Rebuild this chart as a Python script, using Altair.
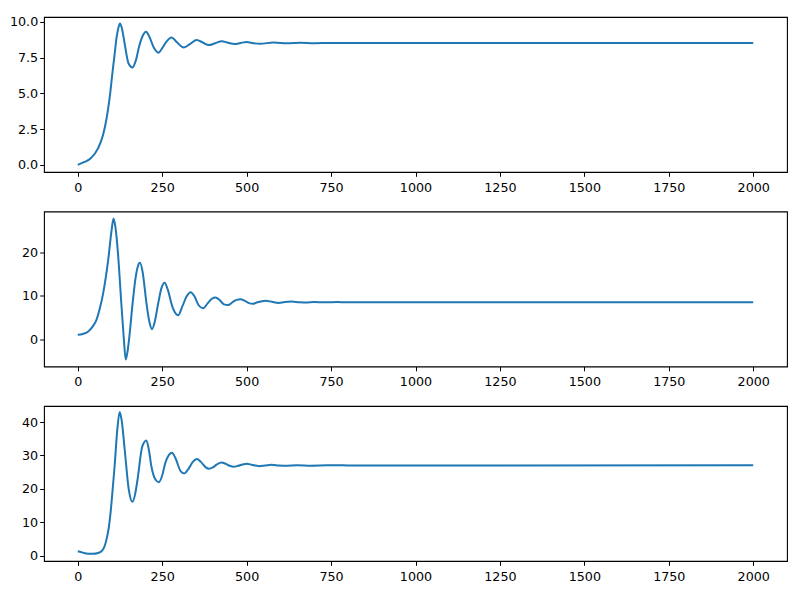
import altair as alt
import pandas as pd

# Panel 1
x1 = [0, 20, 40, 60, 75, 85, 95, 102, 108, 115, 120, 125, 131, 140, 150, 162, 172, 182, 192, 202,
      212, 225, 239, 250, 262, 278, 292, 314, 333, 352, 370, 388, 407, 426, 445, 464, 482, 500, 520,
      540, 580, 620, 660, 700, 750, 2000]
y1 = [0.0, 0.2, 0.5, 1.15, 2.1, 3.2, 4.8, 6.3, 7.5, 8.9, 9.55, 9.88, 9.5, 8.3, 7.1, 6.81, 7.3, 8.3, 9.0, 9.3,
      8.95, 8.2, 7.84, 8.15, 8.6, 8.9, 8.6, 8.2, 8.45, 8.72, 8.55, 8.37, 8.5, 8.63, 8.53, 8.44, 8.52, 8.58, 8.5,
      8.46, 8.55, 8.49, 8.53, 8.5, 8.52, 8.52]

# Panel 2
x2 = [0, 15, 30, 45, 55, 65, 75, 90, 100, 106, 112, 119, 129, 136, 142, 148, 154, 162, 170, 178, 184,
      192, 203, 212, 220, 228, 238, 248, 257, 266, 280, 297, 310, 322, 334, 346, 358, 371, 385, 397, 408,
      420, 433, 445, 458, 470, 482, 495, 507, 519, 532, 545, 557, 575, 594, 613, 633, 655, 675, 700, 730,
      770, 820, 2000]
y2 = [1.0, 1.2, 1.7, 3.0, 4.4, 7.0, 10.5, 18.2, 25.0, 27.8, 25.5, 19.8, 8.2, 0.5, -4.7, -2.5, 1.5, 8.0, 13.5, 16.8, 17.6,
      15.5, 8.5, 4.0, 2.3, 4.0, 8.2, 11.8, 13.0, 11.5, 7.5, 5.5, 7.6, 9.8, 10.8, 9.8, 7.8, 7.1, 8.3, 9.3, 9.6,
      9.0, 8.0, 7.85, 8.5, 9.05, 9.2, 8.8, 8.3, 8.15, 8.5, 8.75, 8.85, 8.6, 8.35, 8.55, 8.65, 8.5, 8.42, 8.55, 8.48,
      8.53, 8.5, 8.52]

# Panel 3
x3 = [0, 15, 30, 45, 60, 70, 78, 85, 92, 97, 103, 109, 117, 124, 130, 139, 151, 162, 170, 177, 191,
      203, 210, 218, 230, 240, 250, 259, 270, 279, 290, 305, 315, 328, 340, 353, 365, 378, 389, 400, 412,
      425, 438, 450, 462, 475, 488, 501, 515, 537, 555, 574, 595, 615, 650, 690, 740, 800, 2000]
y3 = [1.3, 0.9, 0.6, 0.55, 0.8, 1.3, 2.5, 4.8, 8.5, 12.8, 19.5, 26.7, 37.7, 43.0, 40.5, 31.7, 19.8, 16.1, 18.5, 22.8, 32.7,
      34.5, 32.0, 26.7, 22.8, 22.0, 24.0, 27.7, 30.2, 30.8, 29.0, 25.2, 24.6, 26.0, 28.0, 28.9, 28.0, 26.5, 26.0, 26.4, 27.3,
      27.9, 27.5, 26.9, 26.6, 26.9, 27.3, 27.5, 27.2, 26.8, 27.0, 27.2, 27.0, 26.9, 27.1, 26.95, 27.05, 27.02, 27.03]

x_ticks = [0, 250, 500, 750, 1000, 1250, 1500, 1750, 2000]

panels = [
    (x1, y1, [-0.5, 10.33], [0, 2.5, 5, 7.5, 10], ".1f"),
    (x2, y2, [-6.3, 29.4], [0, 10, 20], "d"),
    (x3, y3, [-1.6, 44.8], [0, 10, 20, 30, 40], "d"),
]

charts = []
for xs, ys, ydom, yticks, fmt in panels:
    df = pd.DataFrame({"x": xs, "y": ys})
    c = alt.Chart(df).mark_line(color="#1f77b4", strokeWidth=2, interpolate="monotone").encode(
        x=alt.X("x:Q", title=None,
                scale=alt.Scale(domain=[-100, 2100], nice=False, zero=False),
                axis=alt.Axis(values=x_ticks, format="d")),
        y=alt.Y("y:Q", title=None,
                scale=alt.Scale(domain=ydom, nice=False, zero=False),
                axis=alt.Axis(values=yticks, format=fmt)),
    ).properties(width=743, height=155)
    charts.append(c)

chart = alt.vconcat(*charts, spacing=39.5, bounds="flush").properties(
    padding={"top": 7, "left": 0, "right": 0, "bottom": 0}
).configure_view(
    stroke="black", strokeWidth=1.1
).configure_axis(
    grid=False, domain=False, labelFont="DejaVu Sans", labelFontSize=12.7,
    labelColor="black", tickColor="black", tickSize=4.3
).configure_axisX(
    labelPadding=5
).configure_axisY(
    labelPadding=2
)

chart.save("out.html", embed_options={"renderer": "svg", "actions": False})
